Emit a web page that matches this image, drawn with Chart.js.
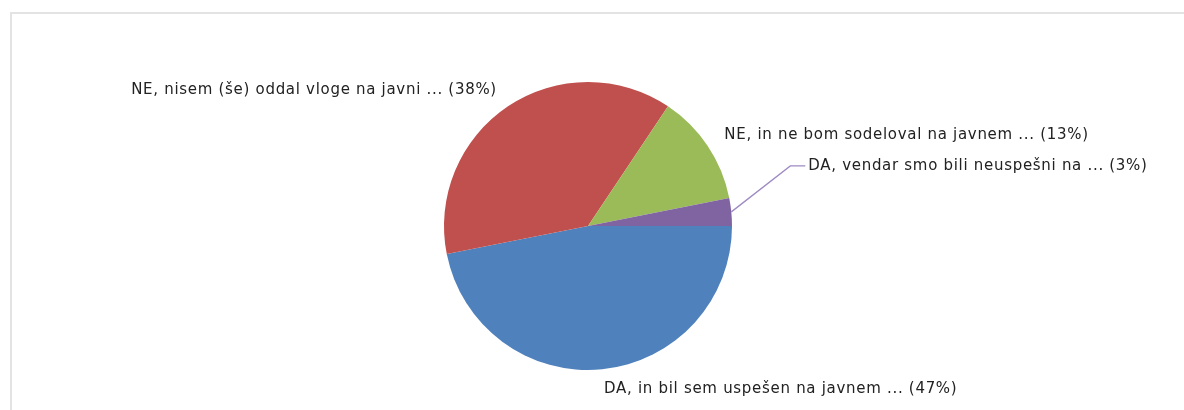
<!DOCTYPE html>
<html>
<head>
<meta charset="utf-8">
<script src="https://cdn.jsdelivr.net/npm/chart.js@4"></script>
<style>
  html, body { margin: 0; padding: 0; background: #fff; overflow: hidden; }
  #wrap { position: relative; width: 1184px; height: 410px; overflow: hidden; }
  #frame { position: absolute; left: 10px; top: 12px; width: 1200px; height: 420px;
           border-top: 2px solid #e3e3e3; border-left: 2px solid #e3e3e3; }
  canvas { position: absolute; left: 0; top: 0; }
</style>
</head>
<body>
<div id="wrap">
  <div id="frame"></div>
  <canvas id="chart" width="1184" height="410"></canvas>
</div>
<script>
// odgovori (kategorije) in stevilo odgovorov
const labels = [
    "DA, in bil sem uspešen na javnem ...",
    "NE, nisem (še) oddal vloge na javni ...",
    "NE, in ne bom sodeloval na javnem ...",
    "DA, vendar smo bili neuspešni na ..."
];
const counts = [15, 12, 4, 1];
const colors = ["#4f81bd", "#c0504d", "#9bbb59", "#8064a2"];

const total = counts.reduce((a, b) => a + b, 0);

// napisi ob rezinah
const sliceLabels = {
    id: "sliceLabels",
    afterDraw(chart) {
        const ctx = chart.ctx;
        const arcs = chart.getDatasetMeta(0).data;
        ctx.save();
        ctx.font = "15px 'DejaVu Sans', Verdana, sans-serif";
        ctx.letterSpacing = "0.7px";
        ctx.fillStyle = "#222";
        ctx.textBaseline = "middle";
        arcs.forEach((arc, i) => {
            const pct = Math.round(counts[i] / total * 100);
            const text = labels[i] + " (" + pct + "%)";
            const mid = (arc.startAngle + arc.endAngle) / 2;
            const r = arc.outerRadius;
            const cos = Math.cos(mid), sin = Math.sin(mid);
            if (pct < 5) {
                // majhna rezina: crta do napisa
                const x0 = arc.x + r * cos, y0 = arc.y + r * sin;
                const x1 = x0 + 59, y1 = y0 - 46;
                ctx.strokeStyle = "#9f8bc3";
                ctx.lineWidth = 1.3;
                ctx.beginPath();
                ctx.moveTo(x0, y0);
                ctx.lineTo(x1, y1);
                ctx.lineTo(x1 + 15, y1);
                ctx.stroke();
                ctx.textAlign = "left";
                ctx.fillText(text, x1 + 18, y1);
            } else {
                const x = arc.x + (r + 20) * cos;
                const y = arc.y + (r + 20) * sin;
                ctx.textAlign = cos < 0 ? "right" : "left";
                ctx.fillText(text, x, y);
            }
        });
        ctx.restore();
    }
};

const chart = new Chart(document.getElementById("chart"), {
    type: "pie",
    data: {
        labels: labels,
        datasets: [{
            data: counts,
            backgroundColor: colors,
            borderWidth: 0
        }]
    },
    options: {
        responsive: false,
        animation: false,
        rotation: 90,
        layout: { padding: { left: 0, right: 8, top: 82, bottom: 40 } },
        plugins: {
            legend: { display: false },
            tooltip: { enabled: false }
        }
    },
    plugins: [sliceLabels]
});
</script>
</body>
</html>
